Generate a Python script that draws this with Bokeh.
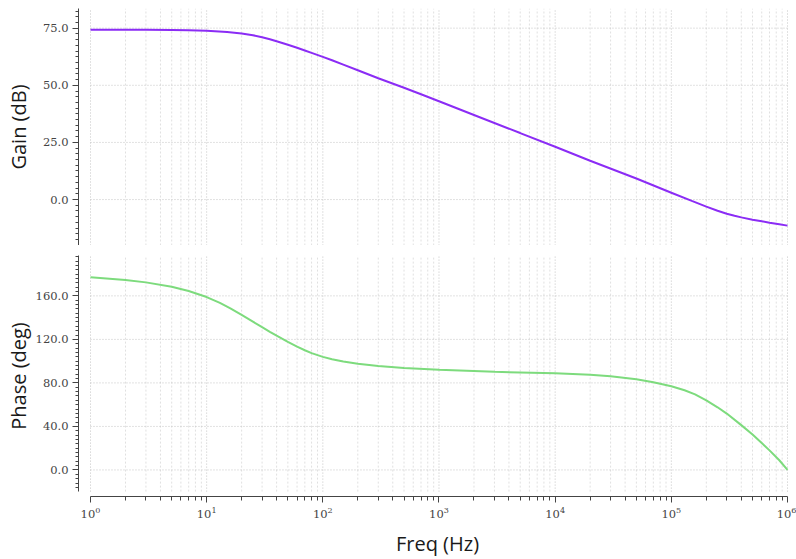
from bokeh.plotting import figure
from bokeh.layouts import column
from bokeh.models import (Range1d, FixedTicker, SingleIntervalTicker,
                          PrintfTickFormatter)
from bokeh.embed import file_html
from bokeh.resources import INLINE

# ---------------- data ----------------
freq_gain = [1, 2, 3, 5, 7, 10, 15, 20, 25, 30, 35, 40, 50, 60, 70, 80, 100,
             120, 150, 200, 300, 500, 700, 1000, 2000, 5000, 1e4, 2e4, 5e4,
             1e5, 1.5e5, 2e5, 2.5e5, 3e5, 3.5e5, 4e5, 5e5, 6e5, 7e5, 8.5e5,
             1e6]
gain_db = [74.3, 74.3, 74.3, 74.2, 74.1, 73.9, 73.3, 72.7, 71.9, 71.05, 70.15,
           69.3, 67.75, 66.4, 65.25, 64.2, 62.45, 60.95, 59.05, 56.6, 53.1,
           48.9, 46.1, 43.0, 37.0, 29.1, 23.1, 17.0, 9.2, 3.0, -0.6, -3.1,
           -4.9, -6.2, -7.1, -7.8, -8.8, -9.5, -10.1, -10.8, -11.4]

freq_phase = [1, 2, 3, 5, 7, 10, 13, 16, 20, 25, 30, 35, 40, 50, 60, 70, 80,
              100, 120, 150, 200, 300, 500, 1000, 3000, 1e4, 2e4, 3e4, 5e4,
              7e4, 1e5, 1.3e5, 1.6e5, 2e5, 2.5e5, 3e5, 4e5, 5e5, 6e5, 7e5,
              8.5e5, 1e6]
phase_deg = [177.0, 174.6, 172.4, 168.4, 164.5, 158.9, 153.5, 148.5, 142.5,
             136.3, 131.2, 127.0, 123.4, 117.7, 113.3, 110.0, 107.4, 103.9,
             101.7, 99.6, 97.6, 95.5, 93.7, 92.0, 90.2, 88.9, 87.4, 86.1,
             83.4, 80.6, 77.0, 73.3, 69.5, 64.0, 57.6, 51.8, 41.2, 32.5, 24.7,
             18.0, 8.9, 0.0]

x_major = [1, 10, 100, 1000, 10000, 100000, 1000000]
x_minor = [m * d for d in x_major[:-1] for m in range(2, 10)]
gain_ticks = [0, 25, 50, 75]
phase_ticks = [0, 40, 80, 120, 160]

# ---------------- styling ----------------
AXIS = "#444444"
MAJOR_GRID = "#c4c4c4"
MINOR_GRID = "#e0e0e0"
GAIN_COLOR = "#8b2cf5"
PHASE_COLOR = "#7ddb7d"
LABEL_FONT = "Open Sans"
TICK_FONT = "DejaVu Serif"
TICK_SIZE = "11.5px"

PX_PER_DECADE = 116.17
x_range = Range1d(10 ** (-12 / PX_PER_DECADE), 10 ** (6 + 9 / PX_PER_DECADE))
gain_range = Range1d(-20.1, 83.6)
phase_range = Range1d(-24.4, 197.1)
phase_axis_bounds = (-19.9, 197.1)


def style_axis(ax):
    ax.axis_line_color = AXIS
    ax.major_tick_line_color = AXIS
    ax.minor_tick_line_color = AXIS
    ax.major_tick_out = 6
    ax.major_tick_in = 0
    ax.minor_tick_in = 0
    ax.major_label_text_font = TICK_FONT
    ax.major_label_text_font_size = TICK_SIZE
    ax.major_label_text_color = AXIS
    ax.major_label_standoff = 4
    ax.axis_label_text_font = LABEL_FONT
    ax.axis_label_text_font_size = "20px"
    ax.axis_label_text_font_style = "normal"
    ax.axis_label_text_color = "#1a1a1a"


def style_yaxis(ax, interval, label, standoff):
    style_axis(ax)
    ax.ticker = SingleIntervalTicker(interval=interval, num_minor_ticks=10)
    ax.formatter = PrintfTickFormatter(format="%.1f")
    ax.minor_tick_out = 3
    ax.axis_label = label
    ax.axis_label_standoff = standoff


def add_grid(p, y_lo, y_hi, yticks):
    n_min, n_maj, n_y = len(x_minor), len(x_major), len(yticks)
    p.segment(x0=x_minor, x1=x_minor, y0=[y_lo] * n_min, y1=[y_hi] * n_min,
              line_color=MINOR_GRID, line_dash="2 2", line_width=1)
    p.segment(x0=x_major, x1=x_major, y0=[y_lo] * n_maj, y1=[y_hi] * n_maj,
              line_color=MAJOR_GRID, line_dash="1 2", line_width=1)
    p.segment(x0=[x_major[0]] * n_y, x1=[x_major[-1]] * n_y, y0=yticks,
              y1=yticks, line_color=MAJOR_GRID, line_dash="1 2", line_width=1)


# ---------------- gain ----------------
p1 = figure(width=796, height=245, x_axis_type="log", x_range=x_range,
            y_range=gain_range, output_backend="svg", toolbar_location=None,
            min_border_left=78, min_border_right=0, min_border_top=8,
            min_border_bottom=0)
p1.outline_line_color = None
p1.grid.visible = False
p1.xaxis.visible = False
style_yaxis(p1.yaxis[0], 25, "Gain (dB)", 8)
add_grid(p1, gain_range.start, gain_range.end, gain_ticks)
p1.line(freq_gain, gain_db, line_color=GAIN_COLOR, line_width=2)

# ---------------- phase ----------------
p2 = figure(width=796, height=314, x_axis_type="log", x_range=x_range,
            y_range=phase_range, output_backend="svg", toolbar_location=None,
            min_border_left=78, min_border_right=0, min_border_top=10,
            min_border_bottom=59)
p2.outline_line_color = None
p2.grid.visible = False
style_yaxis(p2.yaxis[0], 40, "Phase (deg)", 1)
p2.yaxis.bounds = phase_axis_bounds
xa = p2.xaxis[0]
style_axis(xa)
xa.ticker = FixedTicker(ticks=x_major, minor_ticks=x_minor)
xa.bounds = (x_major[0], x_major[-1])
xa.minor_tick_out = 4
xa.axis_label = "Freq (Hz)"
xa.axis_label_standoff = 9
add_grid(p2, phase_axis_bounds[0], phase_axis_bounds[1], phase_ticks)
p2.line(freq_phase, phase_deg, line_color=PHASE_COLOR, line_width=2)

layout = column(p1, p2)
open("out.html", "w").write(file_html(layout, INLINE))
